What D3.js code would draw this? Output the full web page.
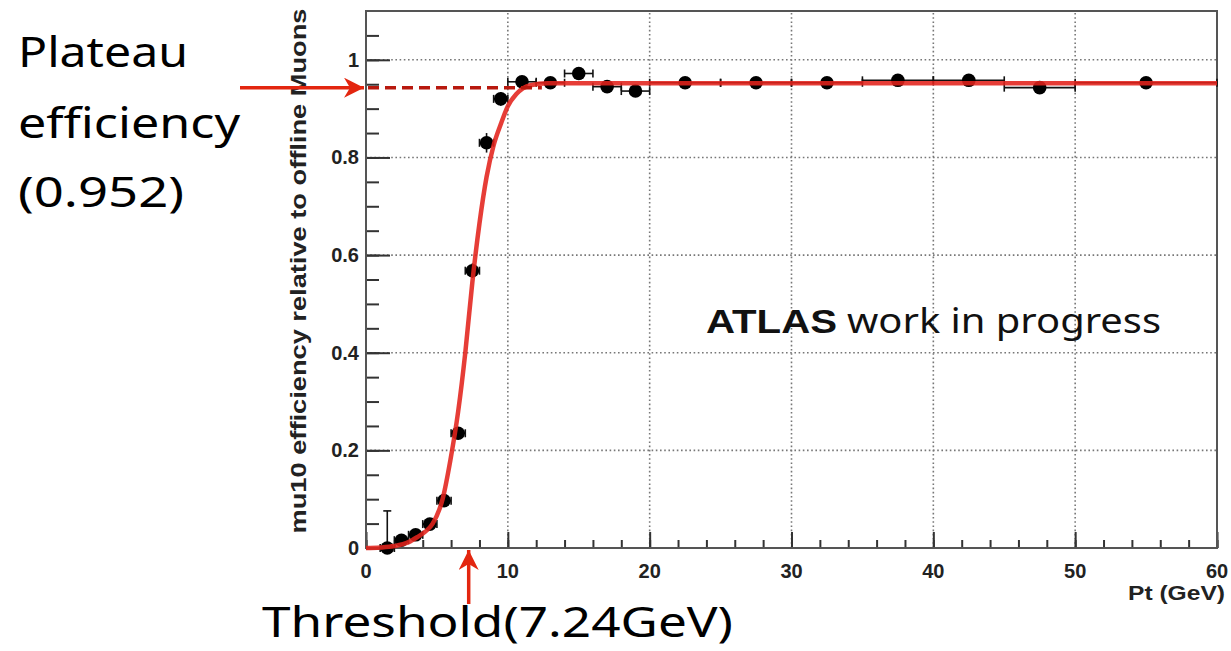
<!DOCTYPE html>
<html>
<head>
<meta charset="utf-8">
<script src="https://d3js.org/d3.v7.min.js"></script>
<style>
  body { margin: 0; background: #fff; }
  svg { display: block; }
</style>
</head>
<body>
<svg id="chart" width="1231" height="651"></svg>
<script>
// measured points: bin centre, half bin width, efficiency and errors
var ptValues = [1.5, 2.5, 3.5, 4.5, 5.5, 6.5, 7.5, 8.5, 9.5, 11, 13, 15, 17, 19, 22.5, 27.5, 32.5, 37.5, 42.5, 47.5, 55];
var ptHalfWidth = [0.5, 0.5, 0.5, 0.5, 0.5, 0.5, 0.5, 0.5, 0.5, 1, 1, 1, 1, 1, 2.5, 2.5, 2.5, 2.5, 2.5, 2.5, 5];
var effValues = [0.0, 0.016, 0.027, 0.049, 0.097, 0.235, 0.568, 0.83, 0.92, 0.955, 0.953, 0.972, 0.945, 0.936, 0.953, 0.953, 0.953, 0.958, 0.958, 0.943, 0.953];
var effErrUp = [0.076, 0.008, 0.008, 0.01, 0.01, 0.012, 0.015, 0.02, 0.014, 0.008, 0.01, 0.008, 0.012, 0.008, 0.005, 0.005, 0.005, 0.005, 0.005, 0.006, 0.005];
var effErrDown = [0.0, 0.008, 0.008, 0.01, 0.01, 0.012, 0.015, 0.02, 0.014, 0.008, 0.01, 0.008, 0.012, 0.008, 0.005, 0.005, 0.005, 0.005, 0.005, 0.006, 0.005];

// fitted turn-on curve
var fitPt = [0, 1, 2, 3, 3.6, 4.2, 4.7, 5.4, 5.95, 6.5, 7.0, 7.5, 8.0, 8.5, 9.0, 9.5, 10.0, 10.6, 11.6, 12.8, 60];
var fitEff = [0, 0.001, 0.004, 0.012, 0.022, 0.034, 0.05, 0.1, 0.18, 0.28, 0.4, 0.545, 0.665, 0.76, 0.825, 0.868, 0.905, 0.93, 0.948, 0.952, 0.952];

var xTicks = [0, 10, 20, 30, 40, 50, 60];
var yTicks = [0, 0.2, 0.4, 0.6, 0.8, 1];
var yTickLabels = ["0", "0.2", "0.4", "0.6", "0.8", "1"];

var plateauEff = 0.943;   // where the hand drawn arrow sits
var thresholdPt = 7.24;

function drawChart() {
  var svg = d3.select("#chart");

  var x = d3.scaleLinear().domain([0, 60]).range([366, 1217]);
  var y = d3.scaleLinear().domain([0, 1.1]).range([548, 11]);

  var labelFont = "'Liberation Sans', Arial, sans-serif";
  var noteFont = "'Noto Sans', 'Open Sans', sans-serif";

  // dotted grid
  var grid = svg.append("g").attr("class", "grid");
  grid.selectAll(".gx")
      .data(xTicks.slice(1, -1))
      .enter().append("line")
      .attr("x1", function(d) { return x(d); })
      .attr("x2", function(d) { return x(d); })
      .attr("y1", y(0))
      .attr("y2", y(1.1))
      .attr("stroke", "#777")
      .attr("stroke-width", 1.6)
      .attr("stroke-dasharray", "1.6,2.6");
  grid.selectAll(".gy")
      .data(yTicks.slice(1))
      .enter().append("line")
      .attr("x1", x(0))
      .attr("x2", x(60))
      .attr("y1", function(d) { return y(d); })
      .attr("y2", function(d) { return y(d); })
      .attr("stroke", "#777")
      .attr("stroke-width", 1.6)
      .attr("stroke-dasharray", "1.6,2.6");

  // axes, ROOT style ticks pointing into the frame
  var xAxisMinor = d3.axisTop(x).tickValues(d3.range(0, 61, 2)).tickSize(8).tickFormat("");
  var xAxisMajor = d3.axisTop(x).tickValues(xTicks).tickSize(16).tickFormat("");
  var yAxisMinor = d3.axisRight(y).tickValues(d3.range(0, 22).map(function(i) { return i * 0.05; })).tickSize(13).tickFormat("");
  var yAxisMajor = d3.axisRight(y).tickValues(yTicks).tickSize(24).tickFormat("");

  [xAxisMinor, xAxisMajor].forEach(function(ax) {
    var g = svg.append("g").attr("transform", "translate(0," + y(0) + ")").call(ax);
    g.select(".domain").remove();
    g.selectAll("line").attr("stroke", "#333").attr("stroke-width", 2);
  });
  [yAxisMinor, yAxisMajor].forEach(function(ax) {
    var g = svg.append("g").attr("transform", "translate(" + x(0) + ",0)").call(ax);
    g.select(".domain").remove();
    g.selectAll("line").attr("stroke", "#333").attr("stroke-width", 2);
  });

  // frame
  svg.append("rect")
      .attr("x", x(0))
      .attr("y", y(1.1))
      .attr("width", x(60) - x(0))
      .attr("height", y(0) - y(1.1))
      .attr("fill", "none")
      .attr("stroke", "#555")
      .attr("stroke-width", 2);

  // tick labels
  svg.selectAll(".xlab")
      .data(xTicks)
      .enter().append("text")
      .attr("x", function(d) { return x(d); })
      .attr("y", y(0) + 30)
      .attr("text-anchor", "middle")
      .style("font-family", labelFont)
      .style("font-weight", "bold")
      .style("font-size", "20px")
      .style("fill", "#222")
      .text(function(d) { return d; });

  svg.selectAll(".ylab")
      .data(yTicks)
      .enter().append("text")
      .attr("x", x(0) - 7)
      .attr("y", function(d) { return y(d) + 7; })
      .attr("text-anchor", "end")
      .style("font-family", labelFont)
      .style("font-weight", "bold")
      .style("font-size", "20px")
      .style("fill", "#222")
      .text(function(d, i) { return yTickLabels[i]; });

  // axis titles
  svg.append("text")
      .attr("x", 1225)
      .attr("y", 600)
      .attr("text-anchor", "end")
      .attr("textLength", 97)
      .attr("lengthAdjust", "spacingAndGlyphs")
      .style("font-family", labelFont)
      .style("font-weight", "bold")
      .style("font-size", "20px")
      .style("fill", "#222")
      .text("Pt (GeV)");

  svg.append("text")
      .attr("transform", "translate(306," + 271 + ") rotate(-90)")
      .attr("text-anchor", "middle")
      .attr("textLength", 525)
      .attr("lengthAdjust", "spacingAndGlyphs")
      .style("font-family", labelFont)
      .style("font-weight", "bold")
      .style("font-size", "22px")
      .style("fill", "#222")
      .text("mu10 efficiency relative to offline Muons");

  // data points with error bars
  var points = ptValues.map(function(p, i) {
    return { pt: p, hw: ptHalfWidth[i], eff: effValues[i], up: effErrUp[i], down: effErrDown[i] };
  });

  var errs = svg.append("g").attr("stroke", "#111").attr("stroke-width", 1.6);
  errs.selectAll(".hbar")
      .data(points)
      .enter().append("line")
      .attr("x1", function(d) { return x(d.pt - d.hw); })
      .attr("x2", function(d) { return x(d.pt + d.hw); })
      .attr("y1", function(d) { return y(d.eff); })
      .attr("y2", function(d) { return y(d.eff); });
  errs.selectAll(".hcapl")
      .data(points)
      .enter().append("line")
      .attr("x1", function(d) { return x(d.pt - d.hw); })
      .attr("x2", function(d) { return x(d.pt - d.hw); })
      .attr("y1", function(d) { return y(d.eff) - 4; })
      .attr("y2", function(d) { return y(d.eff) + 4; });
  errs.selectAll(".hcapr")
      .data(points)
      .enter().append("line")
      .attr("x1", function(d) { return x(d.pt + d.hw); })
      .attr("x2", function(d) { return x(d.pt + d.hw); })
      .attr("y1", function(d) { return y(d.eff) - 4; })
      .attr("y2", function(d) { return y(d.eff) + 4; });
  errs.selectAll(".vbar")
      .data(points)
      .enter().append("line")
      .attr("x1", function(d) { return x(d.pt); })
      .attr("x2", function(d) { return x(d.pt); })
      .attr("y1", function(d) { return y(d.eff + d.up); })
      .attr("y2", function(d) { return y(d.eff - d.down); });
  errs.selectAll(".vcap")
      .data(points.filter(function(d) { return d.up > 0.03; }))
      .enter().append("line")
      .attr("x1", function(d) { return x(d.pt) - 4; })
      .attr("x2", function(d) { return x(d.pt) + 4; })
      .attr("y1", function(d) { return y(d.eff + d.up); })
      .attr("y2", function(d) { return y(d.eff + d.up); });

  svg.selectAll(".marker")
      .data(points)
      .enter().append("circle")
      .attr("cx", function(d) { return x(d.pt); })
      .attr("cy", function(d) { return y(d.eff); })
      .attr("r", 6.8)
      .attr("fill", "#000");

  // fit curve
  var fit = fitPt.map(function(p, i) { return [p, fitEff[i]]; });
  var line = d3.line()
      .x(function(d) { return x(d[0]); })
      .y(function(d) { return y(d[1]); })
      .curve(d3.curveMonotoneX);
  svg.append("path")
      .datum(fit)
      .attr("d", line)
      .attr("fill", "none")
      .attr("stroke", "#e3221b")
      .attr("stroke-width", 4.5)
      .attr("stroke-opacity", 0.88);

  // ATLAS label
  var atlas = svg.append("text")
      .attr("x", 706)
      .attr("y", 333)
      .style("font-family", noteFont)
      .style("font-size", "34px")
      .style("fill", "#111");
  atlas.append("tspan")
      .attr("textLength", 131)
      .attr("lengthAdjust", "spacingAndGlyphs")
      .style("font-family", labelFont)
      .style("font-weight", "bold")
      .text("ATLAS");
  atlas.append("tspan")
      .attr("x", 847)
      .attr("textLength", 314)
      .attr("lengthAdjust", "spacingAndGlyphs")
      .text("work in progress");

  // arrow head marker
  svg.append("defs").append("marker")
      .attr("id", "head")
      .attr("viewBox", "0 0 10 10")
      .attr("refX", 10)
      .attr("refY", 5)
      .attr("markerUnits", "userSpaceOnUse")
      .attr("markerWidth", 22)
      .attr("markerHeight", 20)
      .attr("orient", "auto")
      .append("path")
      .attr("d", "M0,0 L10,5 L0,10 L3,5 Z")
      .attr("fill", "#e3260f");

  // plateau annotation
  svg.append("line")
      .attr("x1", 240)
      .attr("x2", x(0) - 2)
      .attr("y1", y(plateauEff))
      .attr("y2", y(plateauEff))
      .attr("stroke", "#e3260f")
      .attr("stroke-width", 3.5)
      .attr("marker-end", "url(#head)");
  svg.append("line")
      .attr("x1", x(0) + 2)
      .attr("x2", x(12.4))
      .attr("y1", y(plateauEff))
      .attr("y2", y(plateauEff))
      .attr("stroke", "#b8190e")
      .attr("stroke-width", 3.5)
      .attr("stroke-dasharray", "11,6");

  var plateauLines = [
    { text: "Plateau", y: 67, w: 170 },
    { text: "efficiency", y: 138, w: 222 },
    { text: "(0.952)", y: 207, w: 166 }
  ];
  svg.selectAll(".plateau")
      .data(plateauLines)
      .enter().append("text")
      .attr("x", 18)
      .attr("y", function(d) { return d.y; })
      .attr("textLength", function(d) { return d.w; })
      .attr("lengthAdjust", "spacingAndGlyphs")
      .style("font-family", noteFont)
      .style("font-size", "42px")
      .style("fill", "#000")
      .text(function(d) { return d.text; });

  // threshold annotation
  svg.append("line")
      .attr("x1", x(thresholdPt))
      .attr("x2", x(thresholdPt))
      .attr("y1", 604)
      .attr("y2", 550)
      .attr("stroke", "#e3260f")
      .attr("stroke-width", 3.5)
      .attr("marker-end", "url(#head)");

  svg.append("text")
      .attr("x", 262)
      .attr("y", 637)
      .attr("textLength", 471)
      .attr("lengthAdjust", "spacingAndGlyphs")
      .style("font-family", noteFont)
      .style("font-size", "41px")
      .style("fill", "#000")
      .text("Threshold(7.24GeV)");
}

drawChart();
</script>
</body>
</html>
